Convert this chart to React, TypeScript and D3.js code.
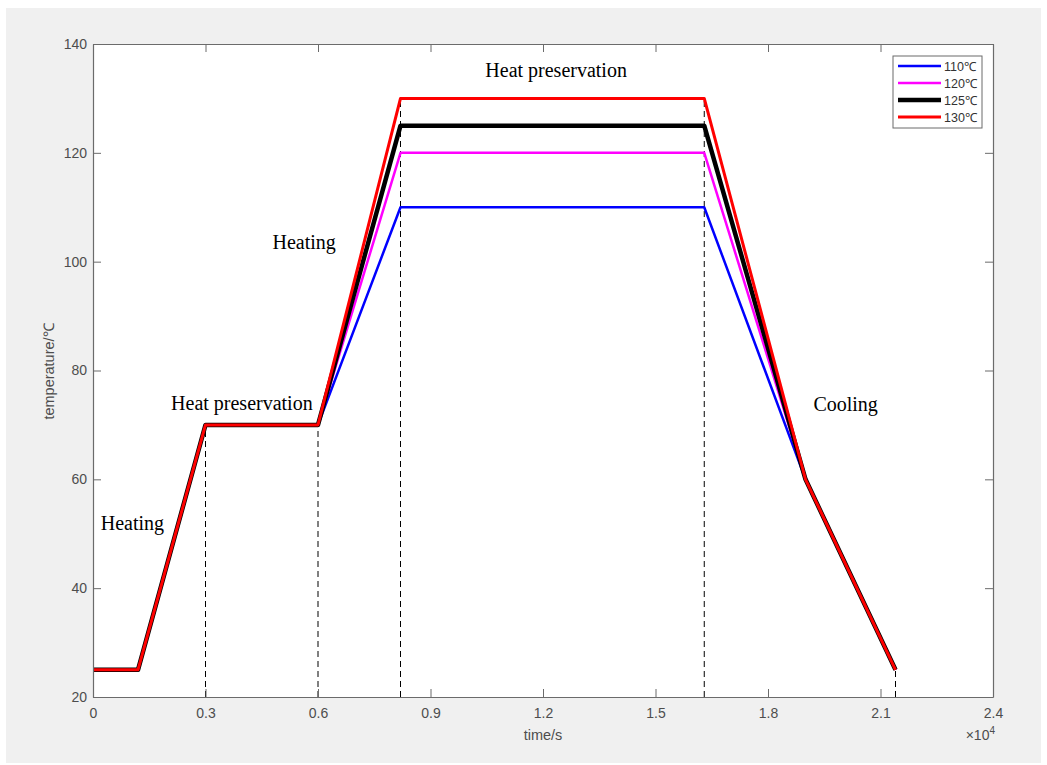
import { axisBottom, axisLeft, axisRight, axisTop, line, scaleLinear, select } from "d3";
import { useEffect, useRef } from "react";

// time in seconds
const times = [0, 1200, 3000, 6000, 8200, 16300, 19000, 21400];
const seriesNames = ["110℃", "120℃", "125℃", "130℃"];
const seriesTemps = [
  [25, 25, 70, 70, 110, 110, 60, 25],
  [25, 25, 70, 70, 120, 120, 60, 25],
  [25, 25, 70, 70, 125, 125, 60, 25],
  [25, 25, 70, 70, 130, 130, 60, 25],
];
const seriesColors = ["#0000ff", "#ff00ff", "#000000", "#ff0000"];
const seriesWidths = [2.5, 2.5, 4.5, 3];

const xTicks = [0, 3000, 6000, 9000, 12000, 15000, 18000, 21000, 24000];
const yTicks = [20, 40, 60, 80, 100, 120, 140];

// dashed guide lines: [time, top temperature]
const guideTimes = [3000, 6000, 8200, 16300, 21400];
const guideTops = [70, 70, 130, 130, 25];

const noteTexts = ["Heat preservation", "Heating", "Heat preservation", "Heating", "Cooling"];
const noteTimes = [12350, 5630, 3970, 1050, 20070];
const noteTemps = [133.9, 102.3, 72.7, 50.7, 72.6];

export default function App() {
  const svgRef = useRef<SVGSVGElement | null>(null);
  const W = 1047;
  const H = 765;

  useEffect(() => {
    if (!svgRef.current) return;
    const svg = select(svgRef.current);
    svg.selectAll("*").remove();

    const margin = { top: 44, right: 54, bottom: 68, left: 93 };
    const innerW = W - margin.left - margin.right;
    const innerH = H - margin.top - margin.bottom;

    svg.append("rect").attr("x", 0).attr("y", 0).attr("width", W).attr("height", H).attr("fill", "#ffffff");
    svg.append("rect").attr("x", 6).attr("y", 8).attr("width", W - 12).attr("height", H - 10).attr("fill", "#f0f0f0");

    const x = scaleLinear().domain([0, 24000]).range([0, innerW]);
    const y = scaleLinear().domain([20, 140]).range([innerH, 0]);

    const g = svg.append("g").attr("transform", `translate(${margin.left},${margin.top})`);
    g.append("rect").attr("width", innerW).attr("height", innerH).attr("fill", "#ffffff");

    // guides
    g.append("g")
      .selectAll("line")
      .data(guideTimes)
      .join("line")
      .attr("x1", (d) => x(d))
      .attr("x2", (d) => x(d))
      .attr("y1", innerH)
      .attr("y2", (_d, i) => y(guideTops[i]))
      .attr("stroke", "#000")
      .attr("stroke-width", 1)
      .attr("stroke-dasharray", "6,4");

    const pathGen = line<number>()
      .x((_d, i) => x(times[i]))
      .y((d) => y(d));

    g.append("g")
      .selectAll("path")
      .data(seriesTemps)
      .join("path")
      .attr("d", (d) => pathGen(d))
      .attr("fill", "none")
      .attr("stroke", (_d, i) => seriesColors[i])
      .attr("stroke-width", (_d, i) => seriesWidths[i])
      .attr("stroke-linejoin", "round");

    // axes
    const axisColor = "#6b6b6b";
    const textColor = "#4d4d4d";
    const font = "Liberation Sans, Arial, sans-serif";

    const styleAxis = (sel: any) => {
      sel.select(".domain").attr("stroke", axisColor).attr("stroke-width", 1.2);
      sel.selectAll(".tick line").attr("stroke", axisColor).attr("stroke-width", 1);
      sel.selectAll(".tick text").attr("fill", textColor).attr("font-size", 14).attr("font-family", font);
    };

    const xAxis = g.append("g").attr("transform", `translate(0,${innerH})`)
      .call(axisBottom(x).tickValues(xTicks).tickSizeInner(-8).tickSizeOuter(0).tickPadding(11)
        .tickFormat((d) => String(+(Number(d) / 10000).toFixed(1))));
    styleAxis(xAxis);

    const yAxis = g.append("g")
      .call(axisLeft(y).tickValues(yTicks).tickSizeInner(-8).tickSizeOuter(0).tickPadding(6));
    styleAxis(yAxis);

    const topAxis = g.append("g")
      .call(axisTop(x).tickValues(xTicks).tickSizeInner(-8).tickSizeOuter(0).tickFormat(() => ""));
    styleAxis(topAxis);

    const rightAxis = g.append("g").attr("transform", `translate(${innerW},0)`)
      .call(axisRight(y).tickValues(yTicks).tickSizeInner(-8).tickSizeOuter(0).tickFormat(() => ""));
    styleAxis(rightAxis);

    // axis labels
    g.append("text")
      .attr("x", innerW / 2)
      .attr("y", innerH + 43)
      .attr("text-anchor", "middle")
      .attr("fill", textColor)
      .attr("font-size", 14.5)
      .attr("font-family", font)
      .text("time/s");

    const exp = g.append("text")
      .attr("x", innerW + 2)
      .attr("y", innerH + 43)
      .attr("text-anchor", "end")
      .attr("fill", textColor)
      .attr("font-size", 14)
      .attr("font-family", font);
    exp.append("tspan").text("×10");
    exp.append("tspan").attr("dy", -6).attr("font-size", 10).text("4");

    g.append("text")
      .attr("transform", `translate(${-39},${innerH / 2 + 1}) rotate(-90)`)
      .attr("text-anchor", "middle")
      .attr("fill", textColor)
      .attr("font-size", 14.5)
      .attr("font-family", font)
      .text("temperature/℃");

    // annotations
    g.append("g")
      .selectAll("text")
      .data(noteTexts)
      .join("text")
      .attr("x", (_d, i) => x(noteTimes[i]))
      .attr("y", (_d, i) => y(noteTemps[i]))
      .attr("text-anchor", "middle")
      .attr("font-family", "Liberation Serif, Times New Roman, serif")
      .attr("font-size", 20)
      .attr("fill", "#000")
      .text((d) => d);

    // legend
    const legend = g.append("g").attr("transform", `translate(${innerW - 100},12)`);
    legend.append("rect")
      .attr("width", 89)
      .attr("height", 72)
      .attr("fill", "#ffffff")
      .attr("stroke", axisColor)
      .attr("stroke-width", 1);
    const rows = legend.selectAll("g.row")
      .data(seriesNames)
      .join("g")
      .attr("class", "row")
      .attr("transform", (_d, i) => `translate(0,${10 + i * 17})`);
    rows.append("line")
      .attr("x1", 5)
      .attr("x2", 48)
      .attr("stroke", (_d, i) => seriesColors[i])
      .attr("stroke-width", (_d, i) => seriesWidths[i]);
    rows.append("text")
      .attr("x", 51)
      .attr("y", 4.5)
      .attr("fill", "#333")
      .attr("font-size", 12.5)
      .attr("font-family", font)
      .text((d) => d);
  }, []);

  return (
    <svg
      ref={svgRef}
      width={W}
      height={H}
      style={{ position: "absolute", left: 0, top: 0, display: "block" }}
    />
  );
}
